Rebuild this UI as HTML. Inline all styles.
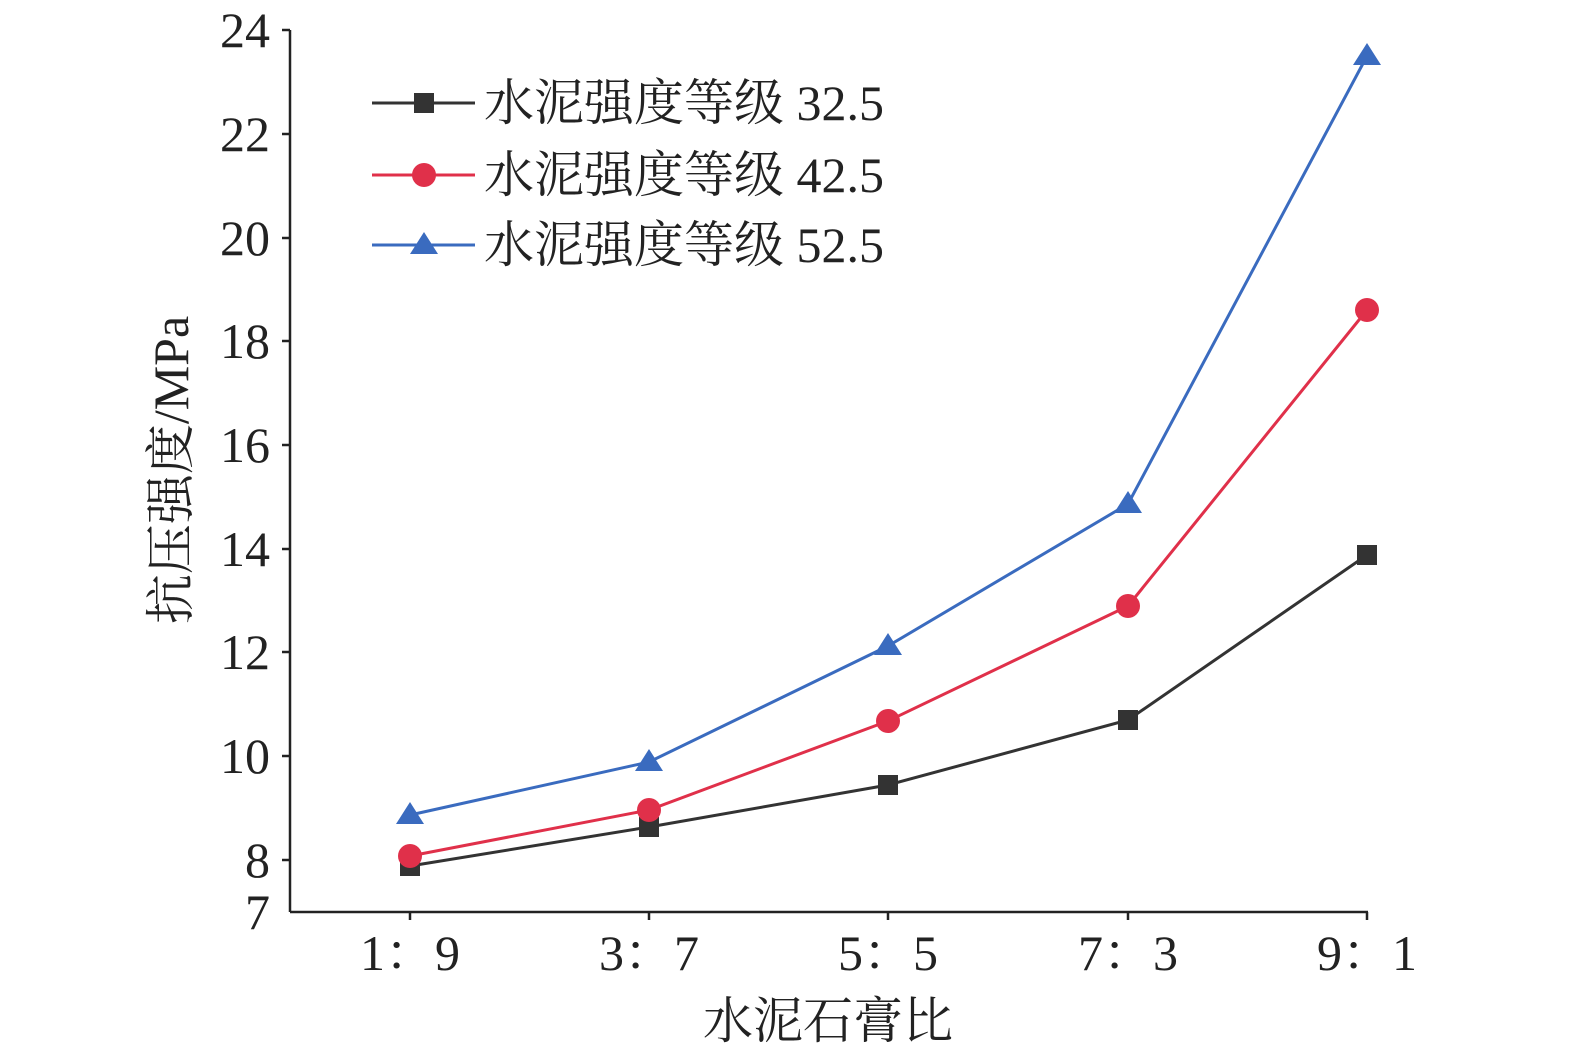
<!DOCTYPE html>
<html><head><meta charset="utf-8"><style>
html,body{margin:0;padding:0;background:#fff}
svg{display:block}
text{font-family:"Liberation Serif","Noto Serif CJK SC",serif;fill:#222}
</style></head><body>
<svg width="1575" height="1052" viewBox="0 0 1575 1052" xmlns="http://www.w3.org/2000/svg">
<g stroke="#222" stroke-width="2.5" fill="none">
<line x1="290" y1="30" x2="290" y2="912"/>
<line x1="290" y1="912" x2="1368" y2="912"/>
<line x1="282" y1="30" x2="290" y2="30"/>
<line x1="282" y1="134" x2="290" y2="134"/>
<line x1="282" y1="238" x2="290" y2="238"/>
<line x1="282" y1="341" x2="290" y2="341"/>
<line x1="282" y1="445" x2="290" y2="445"/>
<line x1="282" y1="549" x2="290" y2="549"/>
<line x1="282" y1="652" x2="290" y2="652"/>
<line x1="282" y1="756" x2="290" y2="756"/>
<line x1="282" y1="860" x2="290" y2="860"/>
<line x1="410" y1="912" x2="410" y2="920"/>
<line x1="649" y1="912" x2="649" y2="920"/>
<line x1="888" y1="912" x2="888" y2="920"/>
<line x1="1128" y1="912" x2="1128" y2="920"/>
<line x1="1367" y1="912" x2="1367" y2="920"/>
</g>
<g font-size="50" text-anchor="end">
<text x="270" y="47">24</text><text x="270" y="151">22</text><text x="270" y="255">20</text>
<text x="270" y="358">18</text><text x="270" y="462">16</text><text x="270" y="566">14</text>
<text x="270" y="669">12</text><text x="270" y="773">10</text><text x="270" y="877">8</text>
<text x="270" y="929">7</text>
</g>
<g font-size="50" text-anchor="middle">
<text x="410" y="970">1：9</text><text x="649" y="970">3：7</text><text x="888" y="970">5：5</text>
<text x="1128" y="970">7：3</text><text x="1367" y="970">9：1</text>
<text x="828" y="1038">水泥石膏比</text>
</g>
<text font-size="50" text-anchor="middle" transform="translate(188,470) rotate(-90)">抗压强度/MPa</text>
<polyline fill="none" stroke="#333" stroke-width="3" points="410,866 649,827 888,785 1128,720 1367,555"/>
<polyline fill="none" stroke="#e0304a" stroke-width="3" points="410,856 649,810 888,721 1128,606 1367,310"/>
<polyline fill="none" stroke="#3a6bbf" stroke-width="3" points="410,815 649,762 888,646 1128,504 1367,56"/>
<g fill="#333">
<rect x="400" y="856" width="20" height="20"/><rect x="639" y="817" width="20" height="20"/>
<rect x="878" y="775" width="20" height="20"/><rect x="1118" y="710" width="20" height="20"/>
<rect x="1357" y="545" width="20" height="20"/>
</g>
<g fill="#e0304a">
<circle cx="410" cy="856" r="12"/><circle cx="649" cy="810" r="12"/><circle cx="888" cy="721" r="12"/>
<circle cx="1128" cy="606" r="12"/><circle cx="1367" cy="310" r="12"/>
</g>
<g fill="#3a6bbf">
<polygon points="410,802 396,824 424,824"/><polygon points="649,749 635,771 663,771"/>
<polygon points="888,633 874,655 902,655"/><polygon points="1128,491 1114,513 1142,513"/>
<polygon points="1367,43 1353,65 1381,65"/>
</g>
<line x1="372" y1="103" x2="475" y2="103" stroke="#333" stroke-width="3"/>
<rect x="414" y="93" width="20" height="20" fill="#333"/>
<line x1="372" y1="175" x2="475" y2="175" stroke="#e0304a" stroke-width="3"/>
<circle cx="424" cy="175" r="12" fill="#e0304a"/>
<line x1="372" y1="245" x2="475" y2="245" stroke="#3a6bbf" stroke-width="3"/>
<polygon points="424,232 410,254 438,254" fill="#3a6bbf"/>
<g font-size="50">
<text x="484" y="120">水泥强度等级 32.5</text>
<text x="484" y="192">水泥强度等级 42.5</text>
<text x="484" y="262">水泥强度等级 52.5</text>
</g>
</svg>
</body></html>
